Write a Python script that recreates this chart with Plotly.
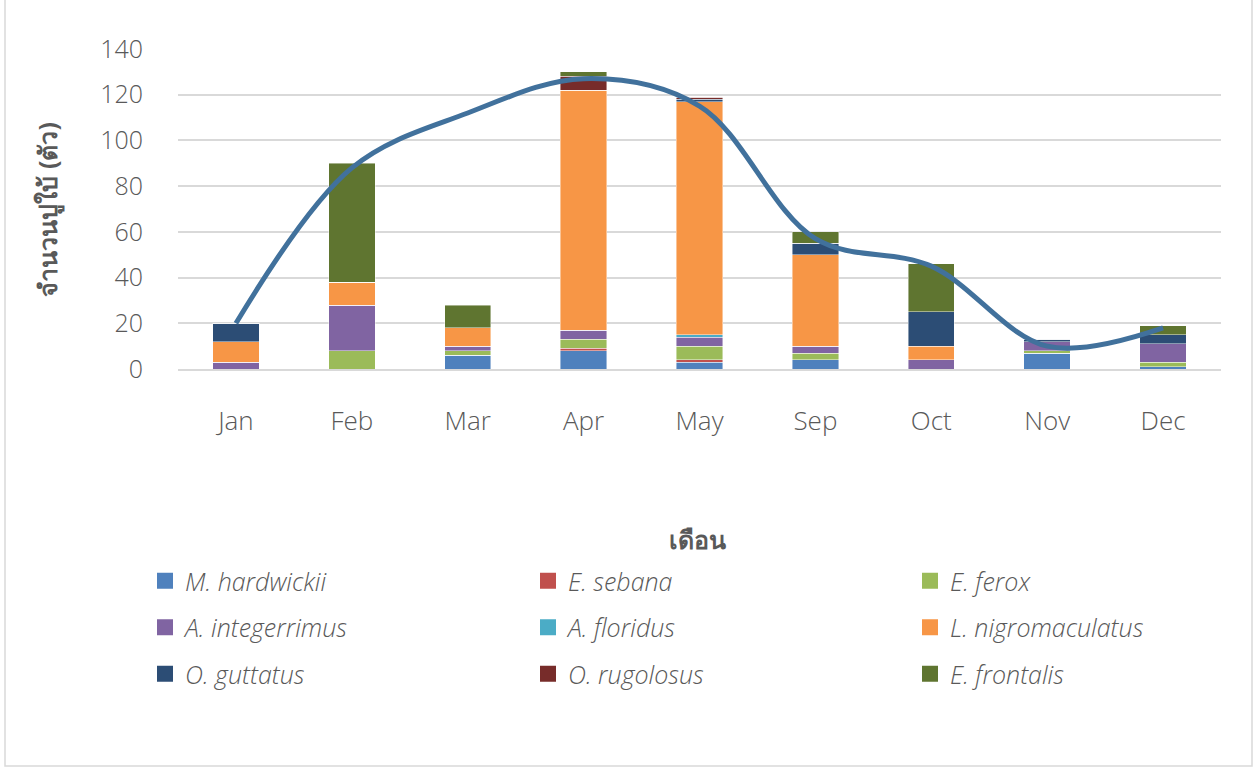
import plotly.graph_objects as go

months = ["Jan", "Feb", "Mar", "Apr", "May", "Sep", "Oct", "Nov", "Dec"]

species = [
    "M. hardwickii", "E. sebana", "E. ferox",
    "A. integerrimus", "A. floridus", "L. nigromaculatus",
    "O. guttatus", "O. rugolosus", "E. frontalis",
]

m_hardwickii      = [0, 0, 6, 8, 3, 4, 0, 7, 1]
e_sebana          = [0, 0, 0, 1, 1, 0, 0, 0, 0]
e_ferox           = [0, 8, 2, 4, 6, 3, 0, 1, 2]
a_integerrimus    = [3, 20, 2, 4, 4, 3, 4, 4, 8]
a_floridus        = [0, 0, 0, 0, 1, 0, 0, 0, 0]
l_nigromaculatus  = [9, 10, 8, 105, 102, 40, 6, 0, 0]
o_guttatus        = [8, 0, 0, 0, 1, 5, 15, 1, 4]
o_rugolosus       = [0, 0, 0, 6, 1, 0, 0, 0, 0]
e_frontalis       = [0, 52, 10, 2, 0, 5, 21, 0, 4]

trend_values = [20, 88, 112, 127, 115, 57, 45, 10, 18]

series = [
    m_hardwickii, e_sebana, e_ferox,
    a_integerrimus, a_floridus, l_nigromaculatus,
    o_guttatus, o_rugolosus, e_frontalis,
]
colors = [
    "#4F81BD", "#C0504D", "#9BBB59",
    "#8064A2", "#4BACC6", "#F79646",
    "#2C4D75", "#772C2A", "#5F7530",
]
# legend column for each species (three columns, filled row by row)
legend_ids = ["legend", "legend2", "legend3"] * 3

W, H = 1257, 771
L, R, T, B = 178, 1221, 49, 369
pw, ph = R - L, B - T


def px(x):
    return (x - L) / pw


def py(y):
    return (B - y) / ph


fig = go.Figure()
for name, vals, col in zip(species, series, colors):
    fig.add_trace(go.Bar(
        x=months, y=vals, name=name, showlegend=False,
        marker=dict(color=col, line=dict(color="rgba(255,255,255,0.55)", width=0.8)),
        width=0.4,
    ))

fig.add_trace(go.Scatter(
    x=months, y=trend_values, mode="lines",
    line=dict(color="#41719C", width=5, shape="spline", smoothing=1.0),
    showlegend=False,
))

# legend keys: square swatches in the series colours
for name, col, lg in zip(species, colors, legend_ids):
    fig.add_trace(go.Scatter(
        x=[None], y=[None], mode="markers", name=name,
        marker=dict(symbol="square", size=16, color=col),
        legend=lg, legendgroup=name, showlegend=True,
    ))

grey = "#595959"
leg_font = dict(size=25, color=grey, style="italic", family="Open Sans, sans-serif", weight=300)
leg_common = dict(
    orientation="v", yanchor="top", xanchor="left",
    font=leg_font, itemwidth=30, itemsizing="trace",
    tracegroupgap=11, bgcolor="rgba(0,0,0,0)",
)
leg_top = py(558)

fig.update_layout(
    width=W, height=H,
    margin=dict(l=L, r=W - R, t=T, b=H - B),
    barmode="stack",
    bargap=0.6,
    paper_bgcolor="white",
    plot_bgcolor="white",
    font=dict(family="Open Sans, sans-serif", color=grey),
    showlegend=True,
    legend=dict(x=px(145), y=leg_top, **leg_common),
    legend2=dict(x=px(528), y=leg_top, **leg_common),
    legend3=dict(x=px(910), y=leg_top, **leg_common),
    xaxis=dict(
        showgrid=False, showline=True, linecolor="#D9D9D9", linewidth=1.5,
        ticks="", tickfont=dict(size=26, color=grey, weight=300),
        ticklabelstandoff=28,
    ),
    yaxis=dict(
        range=[0, 140], dtick=20, showgrid=True, gridcolor="#D9D9D9", gridwidth=1.5,
        zeroline=False, showline=False, ticks="",
        tickfont=dict(size=25, color=grey, weight=300),
        ticklabelstandoff=34,
    ),
    annotations=[
        dict(text="<b>เดือน</b>", x=px(697), y=py(558), xref="paper", yref="paper",
             showarrow=False, font=dict(size=25, color=grey)),
        dict(text="<b>จำนวนปูใบ้ (ตัว)</b>", x=px(27), y=py(210), xref="paper", yref="paper",
             showarrow=False, textangle=-90, font=dict(size=25, color=grey)),
    ],
    shapes=[
        dict(type="rect", xref="paper", yref="paper",
             x0=px(5), x1=px(1252), y0=py(766), y1=py(-5),
             line=dict(color="#D9D9D9", width=1.5)),
    ],
)

fig.write_html("out.html")
